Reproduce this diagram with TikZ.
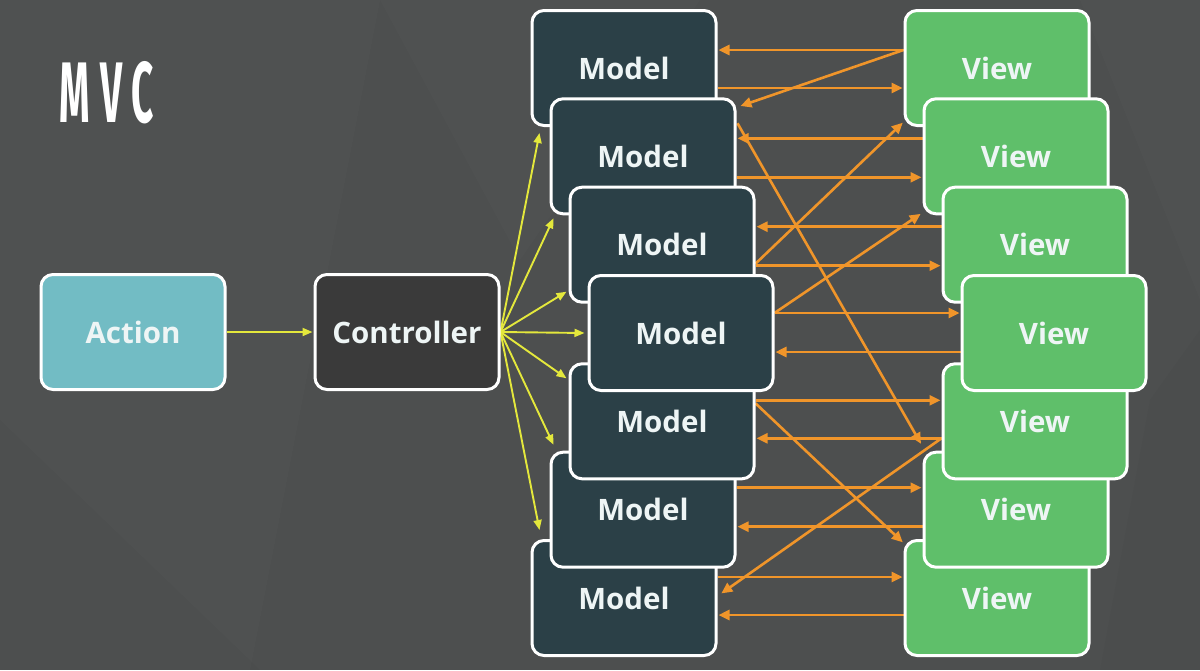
\documentclass[tikz,border=0pt]{standalone}
\usepackage{fontspec}
\setmainfont{Open Sans}
\newfontfamily\titlefont{Fira Sans}
\usetikzlibrary{arrows.meta,calc}
\definecolor{bgc}{HTML}{4D4F4F}
\definecolor{actc}{HTML}{72BCC4}
\definecolor{ctrlc}{HTML}{3A3A3A}
\definecolor{modc}{HTML}{2B4047}
\definecolor{viewc}{HTML}{5FBF6A}
\definecolor{orc}{HTML}{F0952A}
\definecolor{yelc}{HTML}{E4E83C}
\definecolor{txtc}{HTML}{EEF5F5}
\pgfdeclarelayer{back}
\pgfdeclarelayer{mid}
\pgfsetlayers{back,mid,main}
\tikzset{
  box/.style={draw=white, line width=3pt, rounded corners=12pt,
    minimum width=184pt, minimum height=115pt, inner sep=0pt,
    text=txtc, font=\fontsize{29.5}{33}\selectfont\bfseries},
  actbox/.style={box, fill=actc},
  ctrlbox/.style={box, fill=ctrlc},
  modbox/.style={box, fill=modc},
  viewbox/.style={box, fill=viewc},
  orarrow/.style={draw=orc, line width=2.6pt, -{Triangle[length=11pt,width=10pt]}, shorten >=1pt},
  yelarrow/.style={draw=yelc, line width=1.9pt, -{Triangle[length=10pt,width=8pt]}}
}
\begin{document}
\begin{tikzpicture}[x=1pt,y=-1pt]
\useasboundingbox (0,0) rectangle (1200,670);
\begin{pgfonlayer}{back}
  \fill[bgc] (0,0) rectangle (1200,670);
  \fill[white,opacity=0.015] (0,0) -- (380,0) -- (250,670) -- (0,670) -- cycle;
  \fill[white,opacity=0.012] (380,0) -- (700,0) -- (520,260) -- cycle;
  \fill[black,opacity=0.02] (0,420) -- (260,670) -- (0,670) -- cycle;
  \fill[white,opacity=0.012] (1080,0) -- (1200,0) -- (1200,300) -- cycle;
  \fill[black,opacity=0.02] (1150,400) -- (1200,330) -- (1200,670) -- (1100,670) -- cycle;
\end{pgfonlayer}

\node[font=\titlefont\bfseries\fontsize{86}{90}\selectfont, text=white, inner sep=0pt] (title) at (107,93) {\scalebox{0.45}[1]{M\kern22pt V\kern22pt C}};

\node[actbox] (act) at (133,332) {Action};
\node[ctrlbox] (ctrl) at (407,332) {Controller};

\node[modbox] (M1) at (624,68) {Model};
\node[modbox] (M2) at (643,156.3) {Model};
\node[modbox] (M3) at (662,244.7) {Model};
\node[modbox] (M7) at (624,598) {Model};
\node[modbox] (M6) at (643,509.7) {Model};
\node[modbox] (M5) at (662,421.3) {Model};
\node[modbox] (M4) at (681,333) {Model};

\node[viewbox] (V1) at (997,68) {View};
\node[viewbox] (V2) at (1016,156.3) {View};
\node[viewbox] (V3) at (1035,244.7) {View};
\node[viewbox] (V7) at (997,598) {View};
\node[viewbox] (V6) at (1016,509.7) {View};
\node[viewbox] (V5) at (1035,421.3) {View};
\node[viewbox] (V4) at (1054,333) {View};

\begin{pgfonlayer}{mid}
  \draw[yelarrow, shorten >=1pt] (act.east) -- (ctrl.west);
  \draw[yelarrow] (ctrl.east) -- ($(M1.south west)+(9,6)$);
  \draw[yelarrow] (ctrl.east) -- ($(M2.south west)+(4,3)$);
  \draw[yelarrow] (ctrl.east) -- ($(M3.south west)+(-2,-12)$);
  \draw[yelarrow] (ctrl.east) -- ($(M4.west)+(-3,0)$);
  \draw[yelarrow] (ctrl.east) -- ($(M5.north west)+(-2,16)$);
  \draw[yelarrow] (ctrl.east) -- ($(M6.north west)+(4,-6)$);
  \draw[yelarrow] (ctrl.east) -- ($(M7.north west)+(9,-9)$);

  \draw[orarrow] ($(V1.west)+(0,-18)$) -- ($(M1.east)+(0,-18)$);
  \draw[orarrow] ($(M1.east)+(0,20)$) -- ($(V1.west)+(0,20)$);
  \draw[orarrow] ($(V1.west)+(0,-18)$) -- ($(M2.east)+(3,-50)$);
  \draw[orarrow] ($(V2.west)+(0,-18)$) -- ($(M2.east)+(0,-18)$);
  \draw[orarrow] ($(M2.east)+(0,21)$) -- ($(V2.west)+(0,21)$);
  \draw[orarrow] ($(M2.east)+(1,-33)$) -- ($(V6.north west)+(-1,-6)$);
  \draw[orarrow] ($(M3.east)+(0,19)$) -- ($(V1.south west)+(0,-5)$);
  \draw[orarrow] ($(V3.west)+(0,-18)$) -- ($(M3.east)+(0,-18)$);
  \draw[orarrow] ($(M3.east)+(0,21)$) -- ($(V3.west)+(0,21)$);
  \draw[orarrow] ($(M4.east)+(0,-20)$) -- ($(V2.south west)+(-1,-2)$);
  \draw[orarrow] ($(M4.east)+(0,-20)$) -- ($(V4.west)+(0,-20)$);
  \draw[orarrow] ($(V4.west)+(0,19)$) -- ($(M4.east)+(0,19)$);
  \draw[orarrow] ($(M5.east)+(0,-21)$) -- ($(V5.west)+(0,-21)$);
  \draw[orarrow] ($(M5.east)+(0,-18)$) -- ($(V7.north west)+(0,4)$);
  \draw[orarrow] ($(V5.west)+(0,17)$) -- ($(M5.east)+(0,17)$);
  \draw[orarrow] ($(V5.west)+(0,17)$) -- ($(M7.east)+(3,-4)$);
  \draw[orarrow] ($(M6.east)+(0,-22)$) -- ($(V6.west)+(0,-22)$);
  \draw[orarrow] ($(V6.west)+(0,17)$) -- ($(M6.east)+(0,17)$);
  \draw[orarrow] ($(M7.east)+(0,-21)$) -- ($(V7.west)+(0,-21)$);
  \draw[orarrow] ($(V7.west)+(0,17)$) -- ($(M7.east)+(0,17)$);
\end{pgfonlayer}
\end{tikzpicture}
\end{document}
